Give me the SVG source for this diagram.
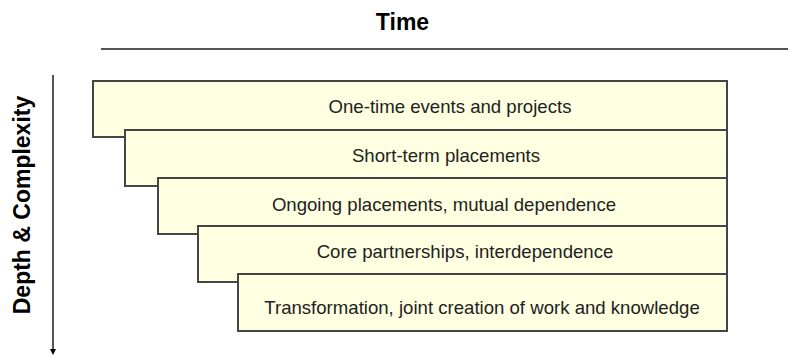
<svg xmlns="http://www.w3.org/2000/svg" width="788" height="358" viewBox="0 0 788 358">
<style>
.box{fill:#FFFFE1;stroke:#454545;stroke-width:2}
.lbl{font-family:"Liberation Sans",Arial,sans-serif;font-size:18.6px;fill:#222;text-anchor:middle}
.ttl{font-family:"Liberation Sans",Arial,sans-serif;font-size:23px;font-weight:bold;fill:#000;text-anchor:middle}
.axis{stroke:#555;stroke-width:2;fill:none}
</style>
<defs>
<marker id="ah" markerWidth="6" markerHeight="6" refX="3" refY="3" orient="auto" markerUnits="userSpaceOnUse">
<path d="M0,0 L6,3 L0,6 Z" fill="#000"/>
</marker>
</defs>
<g id="time-axis">
<text class="ttl" x="402.5" y="30">Time</text>
<line class="axis" x1="101" y1="49" x2="788" y2="49"/>
</g>
<g id="depth-axis">
<text class="ttl" transform="translate(30,205) rotate(-90)">Depth &amp; Complexity</text>
<line class="axis" x1="53" y1="75" x2="53" y2="352" marker-end="url(#ah)"/>
</g>
<g id="level1">
<rect class="box" x="93" y="81" width="634" height="56"/>
<text class="lbl" x="450" y="113">One-time events and projects</text>
</g>
<g id="level2">
<rect class="box" x="125" y="130" width="602" height="56"/>
<text class="lbl" x="446" y="162">Short-term placements</text>
</g>
<g id="level3">
<rect class="box" x="158" y="178" width="569" height="56"/>
<text class="lbl" x="444" y="211">Ongoing placements, mutual dependence</text>
</g>
<g id="level4">
<rect class="box" x="198" y="226" width="529" height="56"/>
<text class="lbl" x="465" y="258">Core partnerships, interdependence</text>
</g>
<g id="level5">
<rect class="box" x="238" y="274" width="489" height="57"/>
<text class="lbl" x="482" y="314">Transformation, joint creation of work and knowledge</text>
</g>
</svg>
